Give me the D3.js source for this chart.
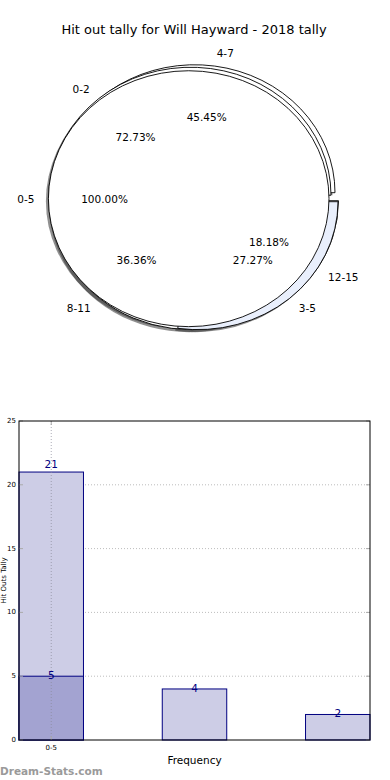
<!DOCTYPE html>
<html><head><meta charset="utf-8">
<script src="https://cdn.jsdelivr.net/npm/d3@7"></script>
<style>body{margin:0;background:#fff}svg{display:block;font-family:"DejaVu Sans",sans-serif}</style>
</head><body>
<svg id="c" width="390" height="780"></svg>
<script>
// ---------- data ----------
const title = "Hit out tally for Will Hayward - 2018 tally";
const pieLabels   = ["0-5", "0-2", "4-7", "12-15", "3-5", "8-11"];
const piePercents = [100.00, 72.73, 45.45, 18.18, 27.27, 36.36];
const pieStartPct = [0, 0, 0, 0, 0, -18.18];   // where each wedge starts (percent of a turn from 3 o'clock)
const pieDirection = [1, 1, 1, -1, -1, -1];    // 1 = counter-clockwise, -1 = clockwise

const barCategories = ["0-5", "", ""];
const barValues = [21, 4, 2];
const barOverlay = [5];
const yTicks = [0, 5, 10, 15, 20, 25];

// ---------- styles ----------
const pieColors = {"3-5": "#e9effc"};
const pieExplode = {"0-5":[0,0], "0-2":[2,-3.5], "4-7":[6,-6], "12-15":[9.5,2], "3-5":[9,3], "8-11":[3,3]};
const drawOrder = ["4-7", "0-2", "8-11", "12-15", "3-5", "0-5"];

const svg = d3.select("#c");
svg.append("text").attr("x", 194).attr("y", 34).attr("text-anchor", "middle")
  .attr("font-size", 13).text(title);

// ---------- pie ----------
const cx = 188.7, cy = 198.7, R = 140.3, ys = 0.912;
const wedges = pieLabels.map((l, i) => {
  const a0 = pieStartPct[i] / 100 * 2 * Math.PI;
  const a1 = a0 + pieDirection[i] * piePercents[i] / 100 * 2 * Math.PI;
  return {label: l, pct: piePercents[i], a0, a1, mid: (a0 + a1) / 2,
          off: pieExplode[l], color: pieColors[l] || "#ffffff"};
});
const byLabel = Object.fromEntries(wedges.map(w => [w.label, w]));
const arc = d3.arc().innerRadius(0).outerRadius(R);
const toD3 = w => {
  const s = Math.PI / 2 - w.a0, e = Math.PI / 2 - w.a1;
  return {startAngle: Math.min(s, e), endAngle: Math.max(s, e)};
};
const defs = svg.append("defs");
defs.append("filter").attr("id", "blur").append("feGaussianBlur").attr("stdDeviation", 0.6);

const pieG = svg.append("g");
// shadows
drawOrder.forEach(l => {
  const w = byLabel[l];
  pieG.append("path")
    .attr("transform", `translate(${cx + w.off[0] - 2.5},${cy + w.off[1] + 2.5}) scale(1,${ys})`)
    .attr("d", arc(toD3(w)))
    .attr("fill", "#333").attr("fill-opacity", 0.55).attr("filter", "url(#blur)");
});
// wedges
drawOrder.forEach(l => {
  const w = byLabel[l];
  pieG.append("path")
    .attr("transform", `translate(${cx + w.off[0]},${cy + w.off[1]}) scale(1,${ys})`)
    .attr("d", arc(toD3(w)))
    .attr("fill", w.color).attr("stroke", "#000").attr("stroke-width", 0.9)
    .attr("vector-effect", "non-scaling-stroke").attr("stroke-linejoin", "miter");
});
// labels
wedges.forEach(w => {
  const c = Math.cos(w.mid), s = Math.sin(w.mid);
  const ox = cx + w.off[0], oy = cy + w.off[1];
  svg.append("text")
    .attr("x", ox + 1.1 * R * c).attr("y", oy - 1.1 * R * ys * s)
    .attr("text-anchor", c > 0 ? "start" : "end").attr("dominant-baseline", "central")
    .attr("font-size", 10.5).text(w.label);
  svg.append("text")
    .attr("x", ox + 0.6 * R * c).attr("y", oy - 0.6 * R * ys * s)
    .attr("text-anchor", "middle").attr("dominant-baseline", "central")
    .attr("font-size", 10.5).text(w.pct.toFixed(2) + "%");
});

// ---------- bar chart ----------
const L = 19, Rr = 370, T = 421, B = 740;
const x = d3.scaleLinear().domain([-0.225, 2.225]).range([L, Rr]);
const y = d3.scaleLinear().domain([0, 25]).range([B, T]);
const bw = 0.45;
const g = svg.append("g");

// grid
g.selectAll(".gh").data(yTicks.slice(1, -1)).join("line")
  .attr("x1", L).attr("x2", Rr).attr("y1", d => y(d)).attr("y2", d => y(d))
  .attr("stroke", "#bdbdbd").attr("stroke-width", 1).attr("stroke-dasharray", "1,2");

// bars
g.selectAll(".bar").data(barValues).join("rect")
  .attr("x", (d, i) => x(i - bw / 2)).attr("width", x(bw) - x(0))
  .attr("y", d => y(d)).attr("height", d => B - y(d))
  .attr("fill", "#cdcde6").attr("stroke", "#000080").attr("stroke-width", 1);
g.selectAll(".ov").data(barOverlay).join("rect")
  .attr("x", (d, i) => x(i - bw / 2)).attr("width", x(bw) - x(0))
  .attr("y", d => y(d)).attr("height", d => B - y(d))
  .attr("fill", "#a3a3d1").attr("stroke", "#000080").attr("stroke-width", 1);

// vertical grid at category tick (drawn over bars)
g.append("line").attr("x1", x(0)).attr("x2", x(0)).attr("y1", T).attr("y2", B)
  .attr("stroke", "#8a8a9a").attr("stroke-opacity", 0.7).attr("stroke-dasharray", "1,2");

// value labels
const labelDy = v => v > 20 ? -4 : 3;
g.selectAll(".bl").data(barValues).join("text")
  .attr("x", (d, i) => x(i)).attr("y", d => y(d) + labelDy(d))
  .attr("text-anchor", "middle").attr("font-size", 10.5).attr("fill", "#000080").text(d => d);
g.selectAll(".ol").data(barOverlay).join("text")
  .attr("x", (d, i) => x(i)).attr("y", d => y(d) + 3)
  .attr("text-anchor", "middle").attr("font-size", 10.5).attr("fill", "#000080").text(d => d);

// y ticks
g.selectAll(".yt").data(yTicks).join("line")
  .attr("x1", L).attr("x2", L + 4).attr("y1", d => y(d)).attr("y2", d => y(d))
  .attr("stroke", "#aaa");
g.selectAll(".ytr").data(yTicks).join("line")
  .attr("x1", Rr - 4).attr("x2", Rr).attr("y1", d => y(d)).attr("y2", d => y(d))
  .attr("stroke", "#aaa");
g.selectAll(".ytl").data(yTicks).join("text")
  .attr("x", L - 3).attr("y", d => y(d)).attr("dominant-baseline", "central")
  .attr("text-anchor", "end").attr("font-size", 7).text(d => d);
// x ticks
barCategories.forEach((c, i) => {
  if (!c) return;
  g.append("line").attr("x1", x(i)).attr("x2", x(i)).attr("y1", B).attr("y2", B - 4).attr("stroke", "#aaa");
  g.append("line").attr("x1", x(i)).attr("x2", x(i)).attr("y1", T).attr("y2", T + 4).attr("stroke", "#aaa");
  g.append("text").attr("x", x(i)).attr("y", B + 10).attr("text-anchor", "middle")
    .attr("font-size", 7).text(c);
});
// frame
g.append("rect").attr("x", L).attr("y", T).attr("width", Rr - L).attr("height", B - T)
  .attr("fill", "none").attr("stroke", "#000").attr("stroke-width", 1);

// axis labels
svg.append("text").attr("x", (L + Rr) / 2).attr("y", 764).attr("text-anchor", "middle")
  .attr("font-size", 10.5).text("Frequency");
svg.append("text").attr("transform", `translate(6,${(T + B) / 2}) rotate(-90)`)
  .attr("text-anchor", "middle").attr("font-size", 7).text("Hit Outs Tally");

svg.append("text").attr("x", 0).attr("y", 775).attr("font-size", 10.5).attr("font-weight", "bold")
  .attr("fill", "#9a9a9a").text("Dream-Stats.com");
</script>
</body></html>
